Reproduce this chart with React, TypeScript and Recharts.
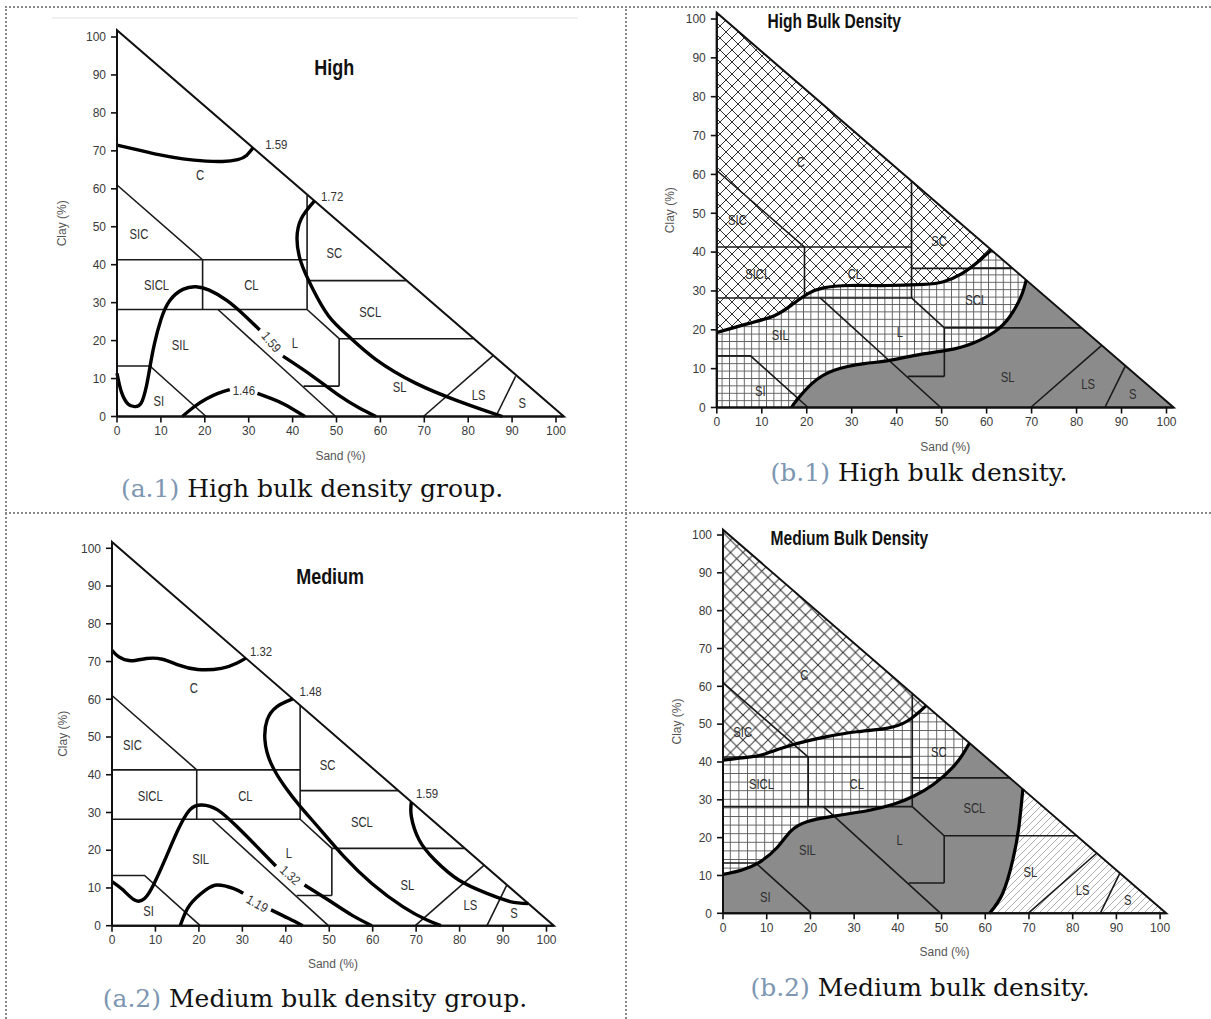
import React from 'react';
import { ComposedChart, Line, Scatter, XAxis, YAxis } from 'recharts';

type Pt = { x: number; y: number };
type Lab = { x: number; y: number; t: string; a?: number };

const TICKS = [0, 10, 20, 30, 40, 50, 60, 70, 80, 90, 100];

// ---- texture class boundaries (sand %, clay %) shared by all panels ----
const SEG_C_SIC: Pt[] = [{ x: 0, y: 61 }, { x: 19.5, y: 41.3 }];
const SEG_CLAY41: Pt[] = [{ x: 0, y: 41.3 }, { x: 43.3, y: 41.3 }];
const SEG_SC_LEFT: Pt[] = [{ x: 43.3, y: 58.3 }, { x: 43.3, y: 28.2 }];
const SEG_CLAY36: Pt[] = [{ x: 43.3, y: 35.8 }, { x: 65.8, y: 35.8 }];
const SEG_SICL_CL: Pt[] = [{ x: 19.5, y: 41.3 }, { x: 19.5, y: 28.2 }];
const SEG_CLAY28: Pt[] = [{ x: 0, y: 28.2 }, { x: 43.3, y: 28.2 }];
const SEG_L_SCL: Pt[] = [{ x: 43.3, y: 28.2 }, { x: 50.6, y: 20.5 }];
const SEG_CLAY20: Pt[] = [{ x: 50.6, y: 20.5 }, { x: 81.1, y: 20.5 }];
const SEG_L_RIGHT: Pt[] = [{ x: 50.6, y: 20.5 }, { x: 50.6, y: 8 }];
const SEG_CLAY8: Pt[] = [{ x: 42.5, y: 8 }, { x: 50.6, y: 8 }];
const SEG_SILT50: Pt[] = [{ x: 23, y: 28.2 }, { x: 49.8, y: 0 }];
const SEG_SI: Pt[] = [{ x: 0, y: 13.3 }, { x: 7.5, y: 13.3 }, { x: 20.3, y: 0 }];
const SEG_LS_SL: Pt[] = [{ x: 69.8, y: 0 }, { x: 85.6, y: 16 }];
const SEG_S_LS: Pt[] = [{ x: 86.3, y: 0 }, { x: 90.8, y: 10.6 }];
const CLASS_LINES: Pt[][] = [
  SEG_C_SIC, SEG_CLAY41, SEG_SC_LEFT, SEG_CLAY36, SEG_SICL_CL, SEG_CLAY28, SEG_L_SCL,
  SEG_CLAY20, SEG_L_RIGHT, SEG_CLAY8, SEG_SILT50, SEG_SI, SEG_LS_SL, SEG_S_LS,
];

// ---- (a.1) High ----
const A1_TRIANGLE: Pt[] = [{ x: 0, y: 0 }, { x: 0, y: 101.8 }, { x: 101.8, y: 0 }, { x: 0, y: 0 }];
const A1_C159: Pt[] = [
  { x: 0, y: 71.5 }, { x: 5, y: 70.2 }, { x: 9.5, y: 69 }, { x: 15, y: 67.9 }, { x: 20.3, y: 67.3 },
  { x: 24, y: 67.2 }, { x: 27.5, y: 67.7 }, { x: 29.5, y: 68.8 }, { x: 31, y: 70.8 },
];
const A1_C172: Pt[] = [
  { x: 45, y: 56.8 }, { x: 42, y: 52.2 }, { x: 41, y: 46.9 }, { x: 41.9, y: 40.7 }, { x: 44.6, y: 33.6 },
  { x: 48.2, y: 26.5 }, { x: 52.7, y: 21.2 }, { x: 59, y: 15 }, { x: 68, y: 8.8 }, { x: 77, y: 4.4 },
  { x: 84, y: 1.5 }, { x: 87.8, y: 0 },
];
const A1_SIL_A: Pt[] = [
  { x: 0, y: 11.4 }, { x: 1, y: 6.5 }, { x: 2.5, y: 3.3 }, { x: 4, y: 2.6 }, { x: 5.5, y: 3.5 },
  { x: 6.7, y: 8 }, { x: 7.5, y: 13 }, { x: 8.5, y: 19 }, { x: 10, y: 25.5 }, { x: 12, y: 30.5 },
  { x: 15, y: 33.5 }, { x: 18, y: 34.2 }, { x: 21, y: 33.3 }, { x: 25, y: 30.6 }, { x: 29, y: 26.7 },
  { x: 32.5, y: 22.8 },
];
const A1_SIL_B: Pt[] = [
  { x: 37.8, y: 15.9 }, { x: 44.6, y: 10.6 }, { x: 50.9, y: 5.3 }, { x: 55, y: 2.4 }, { x: 59, y: 0 },
];
const A1_C146_A: Pt[] = [
  { x: 14.9, y: 0 }, { x: 17.5, y: 2.5 }, { x: 20.3, y: 4.6 }, { x: 23, y: 6.1 }, { x: 25.7, y: 7.1 },
];
const A1_C146_B: Pt[] = [
  { x: 32, y: 6.1 }, { x: 35.2, y: 4.7 }, { x: 38.3, y: 3.1 }, { x: 42.8, y: 0 },
];
const A1_CLASS_LABELS: Lab[] = [
  { x: 18.9, y: 63.6, t: 'C' }, { x: 5, y: 48, t: 'SIC' }, { x: 49.5, y: 43, t: 'SC' },
  { x: 9, y: 34.6, t: 'SICL' }, { x: 30.6, y: 34.6, t: 'CL' }, { x: 57.7, y: 27.6, t: 'SCL' },
  { x: 14.4, y: 18.9, t: 'SIL' }, { x: 40.5, y: 19.3, t: 'L' }, { x: 64.4, y: 7.9, t: 'SL' },
  { x: 82.4, y: 5.7, t: 'LS' }, { x: 92.3, y: 3.5, t: 'S' }, { x: 9.5, y: 4, t: 'SI' },
];
const A1_VALUE_LABELS: Lab[] = [
  { x: 36.3, y: 71.6, t: '1.59' }, { x: 49, y: 57.9, t: '1.72' },
  { x: 35.1, y: 19.6, t: '1.59', a: 50 }, { x: 28.9, y: 6.8, t: '1.46' },
];
const A1_TITLE: Lab[] = [{ x: 49.5, y: 92.1, t: 'High' }];

// ---- (a.2) Medium ----
const A2_TRIANGLE: Pt[] = [{ x: 0, y: 0 }, { x: 0, y: 101.7 }, { x: 101.7, y: 0 }, { x: 0, y: 0 }];
const A2_C132: Pt[] = [
  { x: 0, y: 73 }, { x: 1.5, y: 71.3 }, { x: 4.3, y: 70.2 }, { x: 7.9, y: 70.8 }, { x: 11.6, y: 70.6 },
  { x: 15.2, y: 69.1 }, { x: 19.7, y: 67.9 }, { x: 25.2, y: 68.2 }, { x: 28.8, y: 69.6 }, { x: 30.8, y: 70.9 },
];
const A2_C148: Pt[] = [
  { x: 41.6, y: 60.1 }, { x: 37.9, y: 58 }, { x: 35.7, y: 54.5 }, { x: 35.2, y: 49.2 }, { x: 36.6, y: 43 },
  { x: 39.8, y: 36.8 }, { x: 43.4, y: 31.5 }, { x: 48, y: 25.4 }, { x: 53.4, y: 18.3 }, { x: 59.8, y: 11.2 },
  { x: 67, y: 5 }, { x: 72.5, y: 1.5 }, { x: 75.7, y: 0 },
];
const A2_C159: Pt[] = [
  { x: 68.9, y: 32.8 }, { x: 68.9, y: 28.9 }, { x: 70.7, y: 22.7 }, { x: 74.3, y: 17.4 }, { x: 79.8, y: 12.1 },
  { x: 86.2, y: 8.6 }, { x: 91.6, y: 6.4 }, { x: 95.8, y: 5.9 },
];
const A2_SIL_A: Pt[] = [
  { x: 0, y: 11.7 }, { x: 2.5, y: 9.5 }, { x: 5.2, y: 6.8 }, { x: 7.5, y: 7.2 }, { x: 9.7, y: 11.2 },
  { x: 12.5, y: 18.3 }, { x: 15.2, y: 25.4 }, { x: 17.9, y: 30.7 }, { x: 20.7, y: 32 }, { x: 24.3, y: 30.7 },
  { x: 28.8, y: 26.2 }, { x: 33.4, y: 20.9 }, { x: 37.7, y: 15.8 },
];
const A2_SIL_B: Pt[] = [
  { x: 44.3, y: 10.8 }, { x: 49.8, y: 6.8 }, { x: 55.2, y: 2.8 }, { x: 59.8, y: 0 },
];
const A2_C119_A: Pt[] = [
  { x: 15.7, y: 0 }, { x: 17.9, y: 5.5 }, { x: 21.6, y: 9.5 }, { x: 24.3, y: 10.8 }, { x: 27.9, y: 9.9 },
  { x: 30.2, y: 8.6 },
];
const A2_C119_B: Pt[] = [
  { x: 36.6, y: 4.2 }, { x: 40.7, y: 1.9 }, { x: 43.9, y: 0 },
];
const A2_CLASS_LABELS: Lab[] = [
  { x: 18.8, y: 62.9, t: 'C' }, { x: 4.7, y: 47.9, t: 'SIC' }, { x: 49.6, y: 42.6, t: 'SC' },
  { x: 8.8, y: 34.4, t: 'SICL' }, { x: 30.7, y: 34.4, t: 'CL' }, { x: 57.5, y: 27.6, t: 'SCL' },
  { x: 20.4, y: 17.7, t: 'SIL' }, { x: 40.7, y: 19.2, t: 'L' }, { x: 68, y: 10.8, t: 'SL' },
  { x: 82.5, y: 5.5, t: 'LS' }, { x: 92.5, y: 3.3, t: 'S' }, { x: 8.4, y: 3.9, t: 'SI' },
];
const A2_VALUE_LABELS: Lab[] = [
  { x: 34.3, y: 72.6, t: '1.32' }, { x: 45.7, y: 62, t: '1.48' }, { x: 72.5, y: 35, t: '1.59' },
  { x: 41, y: 13.3, t: '1.32', a: 42 }, { x: 33.4, y: 5.8, t: '1.19', a: 30 },
];
const A2_TITLE: Lab[] = [{ x: 50.2, y: 92.5, t: 'Medium' }];

// ---- (b.1) High Bulk Density ----
const B1_TRIANGLE: Pt[] = [{ x: 0, y: 0 }, { x: 0, y: 101.6 }, { x: 101.6, y: 0 }, { x: 0, y: 0 }];
const B1_UPPER: Pt[] = [
  { x: 0, y: 19.3 }, { x: 7, y: 21.6 }, { x: 12.9, y: 23.7 }, { x: 17, y: 26.7 }, { x: 20.3, y: 29.3 },
  { x: 23.7, y: 30.8 }, { x: 29.5, y: 31.4 }, { x: 37.8, y: 31.4 }, { x: 46, y: 31.7 }, { x: 50.2, y: 32.3 },
  { x: 54.4, y: 34.4 }, { x: 58.5, y: 37.9 }, { x: 61, y: 40.6 },
];
const B1_LOWER: Pt[] = [
  { x: 16.6, y: 0 }, { x: 17.8, y: 1.9 }, { x: 21.2, y: 6.2 }, { x: 26.1, y: 9.6 }, { x: 32.8, y: 11.3 },
  { x: 37.8, y: 12 }, { x: 44.4, y: 13.5 }, { x: 51, y: 14.7 }, { x: 56.8, y: 16.5 }, { x: 61.8, y: 19.5 },
  { x: 65.1, y: 23.3 }, { x: 67.6, y: 28.4 }, { x: 68.8, y: 32.8 },
];
const B1_APEX: Pt[] = [{ x: 0, y: 101.6 }];
const B1_ORIGIN: Pt[] = [{ x: 0, y: 0 }];
const B1_RIGHT: Pt[] = [{ x: 101.6, y: 0 }];
const B1_CLASS_LABELS: Lab[] = [
  { x: 18.7, y: 63.2, t: 'C' }, { x: 4.6, y: 48.2, t: 'SIC' }, { x: 49.4, y: 43, t: 'SC' },
  { x: 9.1, y: 34.5, t: 'SICL' }, { x: 30.7, y: 34.5, t: 'CL' }, { x: 57.7, y: 27.6, t: 'SCL' },
  { x: 14.1, y: 18.6, t: 'SIL' }, { x: 40.7, y: 19.5, t: 'L' }, { x: 64.7, y: 7.9, t: 'SL' },
  { x: 82.6, y: 6.2, t: 'LS' }, { x: 92.5, y: 3.6, t: 'S' }, { x: 9.7, y: 4.3, t: 'SI' },
];
const B1_TITLE: Lab[] = [{ x: 26.1, y: 99.3, t: 'High Bulk Density' }];

// ---- (b.2) Medium Bulk Density ----
const B2_TRIANGLE: Pt[] = [{ x: 0, y: 0 }, { x: 0, y: 101.4 }, { x: 101.4, y: 0 }, { x: 0, y: 0 }];
const B2_TOP: Pt[] = [
  { x: 0, y: 40.5 }, { x: 5.8, y: 41.3 }, { x: 9.2, y: 42 }, { x: 16.1, y: 44.6 }, { x: 23.8, y: 46.7 },
  { x: 30.6, y: 48 }, { x: 37.4, y: 48.9 }, { x: 42.3, y: 50.9 }, { x: 46.5, y: 54.9 },
];
const B2_MID: Pt[] = [
  { x: 0, y: 10.3 }, { x: 4.2, y: 11.4 }, { x: 8.2, y: 13.4 }, { x: 12.4, y: 17.4 }, { x: 15.4, y: 21.6 },
  { x: 19.2, y: 24.2 }, { x: 25.3, y: 25.7 }, { x: 33, y: 27.1 }, { x: 39, y: 28.8 }, { x: 43.7, y: 31 },
  { x: 48.2, y: 34.1 }, { x: 52.5, y: 38.5 }, { x: 55, y: 42.3 }, { x: 56.4, y: 45 },
];
const B2_RIGHT_CURVE: Pt[] = [
  { x: 61, y: 0 }, { x: 64, y: 5.3 }, { x: 66.3, y: 14.1 }, { x: 67.7, y: 22.9 }, { x: 68.6, y: 32.8 },
];
const B2_APEX: Pt[] = [{ x: 0, y: 101.4 }];
const B2_ORIGIN: Pt[] = [{ x: 0, y: 0 }];
const B2_RIGHT: Pt[] = [{ x: 101.4, y: 0 }];
const B2_CLASS_LABELS: Lab[] = [
  { x: 18.6, y: 63, t: 'C' }, { x: 4.5, y: 48, t: 'SIC' }, { x: 49.4, y: 42.7, t: 'SC' },
  { x: 8.8, y: 34.2, t: 'SICL' }, { x: 30.6, y: 34.2, t: 'CL' }, { x: 57.5, y: 27.8, t: 'SCL' },
  { x: 19.3, y: 16.7, t: 'SIL' }, { x: 40.4, y: 19.4, t: 'L' }, { x: 70.3, y: 11, t: 'SL' },
  { x: 82.3, y: 6.2, t: 'LS' }, { x: 92.6, y: 3.5, t: 'S' }, { x: 9.7, y: 4.4, t: 'SI' },
];
const B2_TITLE: Lab[] = [{ x: 28.9, y: 99.1, t: 'Medium Bulk Density' }];

const rev = (a: Pt[]) => [...a].reverse();

const B1_FILLS = [
  { pts: [...B1_APEX, ...B1_UPPER], cls: 'f-cross1' },
  { pts: [...B1_UPPER, ...rev(B1_LOWER), ...B1_ORIGIN], cls: 'f-grid1' },
  { pts: [...B1_LOWER, ...B1_RIGHT], cls: 'f-gray' },
];
const B2_FILLS = [
  { pts: [...B2_APEX, ...B2_TOP], cls: 'f-cross2' },
  { pts: [...B2_TOP, ...rev(B2_MID)], cls: 'f-grid2' },
  { pts: [...B2_ORIGIN, ...B2_MID, ...rev(B2_RIGHT_CURVE)], cls: 'f-gray' },
  { pts: [...B2_RIGHT_CURVE, ...B2_RIGHT], cls: 'f-diag' },
];

const SANS = "'Liberation Sans', Arial, sans-serif";

const textShape = (style: any, sx: number) => (props: any) => {
  const { cx, cy, payload } = props;
  if (cx == null || cy == null) return <g />;
  const rot = payload.a ? ` rotate(${payload.a})` : '';
  return (
    <text
      x={0}
      y={0}
      textAnchor="middle"
      dominantBaseline="central"
      transform={`translate(${cx} ${cy})${rot} scale(${sx} 1)`}
      {...style}
    >
      {payload.t}
    </text>
  );
};

type Spec = {
  left: number; top: number; width: number; height: number;
  x0: number; x100: number; y0: number; y100: number; D: number;
  yAxisW: number; xAxisH: number;
};

type PanelProps = {
  spec: Spec;
  triangle: Pt[];
  curves: Pt[][];
  fills?: { pts: Pt[]; cls: string }[];
  classLabels: Lab[];
  valueLabels?: Lab[];
  title: Lab[];
  titleSize: number;
  curveWidth: number;
};

function Panel({ spec, triangle, curves, fills = [], classLabels, valueLabels = [], title, titleSize, curveWidth }: PanelProps) {
  const { left, top, width, height, x0, x100, y0, y100, D, yAxisW, xAxisH } = spec;
  const plotW = ((x100 - x0) * D) / 100;
  const plotH = ((y0 - y100) * D) / 100;
  const plotTop = y0 - plotH;
  const margin = {
    left: x0 - left - yAxisW,
    top: plotTop - top,
    right: left + width - (x0 + plotW),
    bottom: top + height - y0 - xAxisH,
  };
  const tickStyle = { fill: '#3a3a3a', fontSize: 12, fontFamily: SANS };
  const common = { dot: false, activeDot: false, isAnimationActive: false, legendType: 'none' as const };
  return (
    <div style={{ position: 'absolute', left, top }}>
      <ComposedChart width={width} height={height} margin={margin}>
        <XAxis
          type="number" dataKey="x" domain={[0, D]} ticks={TICKS} interval={0}
          height={xAxisH} tickSize={6} tickMargin={4} tick={tickStyle}
          axisLine={{ stroke: '#111', strokeWidth: 2 }} tickLine={{ stroke: '#111', strokeWidth: 1.6 }}
          label={{ value: 'Sand (%)', position: 'center', fill: '#555', fontSize: 12, fontFamily: SANS }}
        />
        <YAxis
          type="number" dataKey="y" domain={[0, D]} ticks={TICKS} interval={0}
          width={yAxisW} tickSize={6} tickMargin={5} tick={tickStyle}
          axisLine={{ stroke: '#111', strokeWidth: 2 }} tickLine={{ stroke: '#111', strokeWidth: 1.6 }}
          label={{ value: 'Clay (%)', angle: -90, position: 'center', fill: '#555', fontSize: 12, fontFamily: SANS }}
        />
        {fills.map((f, i) => (
          <Line key={'f' + i} data={f.pts} dataKey="y" type="linearClosed" stroke="none" className={f.cls} {...common} />
        ))}
        {CLASS_LINES.map((s, i) => (
          <Line key={'c' + i} data={s} dataKey="y" type="linear" stroke="#1a1a1a" strokeWidth={1.6} {...common} />
        ))}
        <Line data={triangle} dataKey="y" type="linear" stroke="#111" strokeWidth={2} {...common} />
        {curves.map((c, i) => (
          <Line key={'k' + i} data={c} dataKey="y" type="natural" stroke="#000" strokeWidth={curveWidth} strokeLinecap="butt" {...common} />
        ))}
        <Scatter data={classLabels} dataKey="y" isAnimationActive={false} legendType="none"
          shape={textShape({ fill: '#2e2e2e', fontSize: 15, fontFamily: SANS }, 0.75)} />
        <Scatter data={valueLabels} dataKey="y" isAnimationActive={false} legendType="none"
          shape={textShape({ fill: '#333', fontSize: 13, fontFamily: SANS }, 0.88)} />
        <Scatter data={title} dataKey="y" isAnimationActive={false} legendType="none"
          shape={textShape({ fill: '#111', fontSize: titleSize, fontWeight: 'bold', fontFamily: SANS }, 0.8)} />
      </ComposedChart>
    </div>
  );
}

const SPEC_A1: Spec = { left: 6, top: 8, width: 618, height: 500, x0: 117, x100: 556, y0: 416.5, y100: 37, D: 101.8, yAxisW: 110, xAxisH: 78 };
const SPEC_B1: Spec = { left: 618, top: 8, width: 590, height: 500, x0: 716.8, x100: 1166.5, y0: 407.5, y100: 19, D: 101.6, yAxisW: 93.6, xAxisH: 78.4 };
const SPEC_A2: Spec = { left: 6, top: 515, width: 618, height: 490, x0: 112, x100: 546.5, y0: 925.7, y100: 548.3, D: 101.7, yAxisW: 98, xAxisH: 76.6 };
const SPEC_B2: Spec = { left: 618, top: 515, width: 590, height: 480, x0: 723, x100: 1160.1, y0: 913.3, y100: 535, D: 101.4, yAxisW: 92, xAxisH: 76.8 };

const CSS = `
body { margin: 0; }
.f-cross1 .recharts-line-curve { fill: url(#pCross1); }
.f-cross2 .recharts-line-curve { fill: url(#pCross2); }
.f-grid1 .recharts-line-curve { fill: url(#pGrid1); }
.f-grid2 .recharts-line-curve { fill: url(#pGrid2); }
.f-diag .recharts-line-curve { fill: url(#pDiag); }
.f-gray .recharts-line-curve { fill: #8b8b8b; }
`;

const CAP_ACCENT = '#7d96b2';

function Caption({ x, y, tag, text }: { x: number; y: number; tag: string; text: string }) {
  return (
    <div style={{
      position: 'absolute', left: x, top: y, transform: 'translate(-50%, -50%)', whiteSpace: 'nowrap',
      fontFamily: "'DejaVu Serif', serif", fontSize: 25, lineHeight: 1, color: '#111',
    }}>
      <span style={{ color: CAP_ACCENT }}>{tag}</span> {text}
    </div>
  );
}

export default function App() {
  const dot = '#8a8a8a';
  return (
    <div style={{ position: 'relative', width: 1211, height: 1019, background: '#fff', overflow: 'hidden' }}>
      <style>{CSS}</style>
      <svg width={0} height={0} style={{ position: 'absolute' }}>
        <defs>
          <pattern id="pCross1" width={12} height={12} patternUnits="userSpaceOnUse">
            <path d="M0,0 L12,12 M12,0 L0,12" stroke="#333" strokeWidth={1} fill="none" />
          </pattern>
          <pattern id="pCross2" width={12.5} height={12.5} patternUnits="userSpaceOnUse">
            <path d="M0,0 L12.5,12.5 M12.5,0 L0,12.5" stroke="#333" strokeWidth={1} fill="none" />
          </pattern>
          <pattern id="pGrid1" width={7.4} height={7.4} patternUnits="userSpaceOnUse">
            <path d="M0,0.5 H7.4 M0.5,0 V7.4" stroke="#555" strokeWidth={0.9} fill="none" />
          </pattern>
          <pattern id="pGrid2" width={8.6} height={8.6} patternUnits="userSpaceOnUse">
            <path d="M0,0.5 H8.6 M0.5,0 V8.6" stroke="#555" strokeWidth={0.9} fill="none" />
          </pattern>
          <pattern id="pDiag" width={7} height={7} patternUnits="userSpaceOnUse">
            <path d="M0,7 L7,0 M-1,1 L1,-1 M6,8 L8,6" stroke="#9a9a9a" strokeWidth={0.8} fill="none" />
          </pattern>
        </defs>
      </svg>

      {/* frame lines */}
      <div style={{ position: 'absolute', left: 5, top: 6, width: 1206, height: 0, borderTop: `2px dotted ${dot}` }} />
      <div style={{ position: 'absolute', left: 5, top: 6, width: 0, height: 1013, borderLeft: `2px dotted ${dot}` }} />
      <div style={{ position: 'absolute', left: 625, top: 6, width: 0, height: 1013, borderLeft: `2px dotted ${dot}` }} />
      <div style={{ position: 'absolute', left: 5, top: 512, width: 1206, height: 0, borderTop: `2px dotted ${dot}` }} />
      <div style={{ position: 'absolute', left: 52, top: 17, width: 526, height: 2, background: '#f0f0f0' }} />

      <Panel spec={SPEC_A1} triangle={A1_TRIANGLE}
        curves={[A1_C159, A1_C172, A1_SIL_A, A1_SIL_B, A1_C146_A, A1_C146_B]}
        classLabels={A1_CLASS_LABELS} valueLabels={A1_VALUE_LABELS} title={A1_TITLE} titleSize={22.5} curveWidth={3.4} />
      <Panel spec={SPEC_B1} triangle={B1_TRIANGLE} fills={B1_FILLS}
        curves={[B1_UPPER, B1_LOWER]}
        classLabels={B1_CLASS_LABELS} title={B1_TITLE} titleSize={19.5} curveWidth={3.2} />
      <Panel spec={SPEC_A2} triangle={A2_TRIANGLE}
        curves={[A2_C132, A2_C148, A2_C159, A2_SIL_A, A2_SIL_B, A2_C119_A, A2_C119_B]}
        classLabels={A2_CLASS_LABELS} valueLabels={A2_VALUE_LABELS} title={A2_TITLE} titleSize={22.5} curveWidth={3.4} />
      <Panel spec={SPEC_B2} triangle={B2_TRIANGLE} fills={B2_FILLS}
        curves={[B2_TOP, B2_MID, B2_RIGHT_CURVE]}
        classLabels={B2_CLASS_LABELS} title={B2_TITLE} titleSize={19.5} curveWidth={3.2} />

      <Caption x={312} y={488} tag="(a.1)" text="High bulk density group." />
      <Caption x={919} y={472} tag="(b.1)" text="High bulk density." />
      <Caption x={315} y={998} tag="(a.2)" text="Medium bulk density group." />
      <Caption x={920} y={987} tag="(b.2)" text="Medium bulk density." />
    </div>
  );
}
